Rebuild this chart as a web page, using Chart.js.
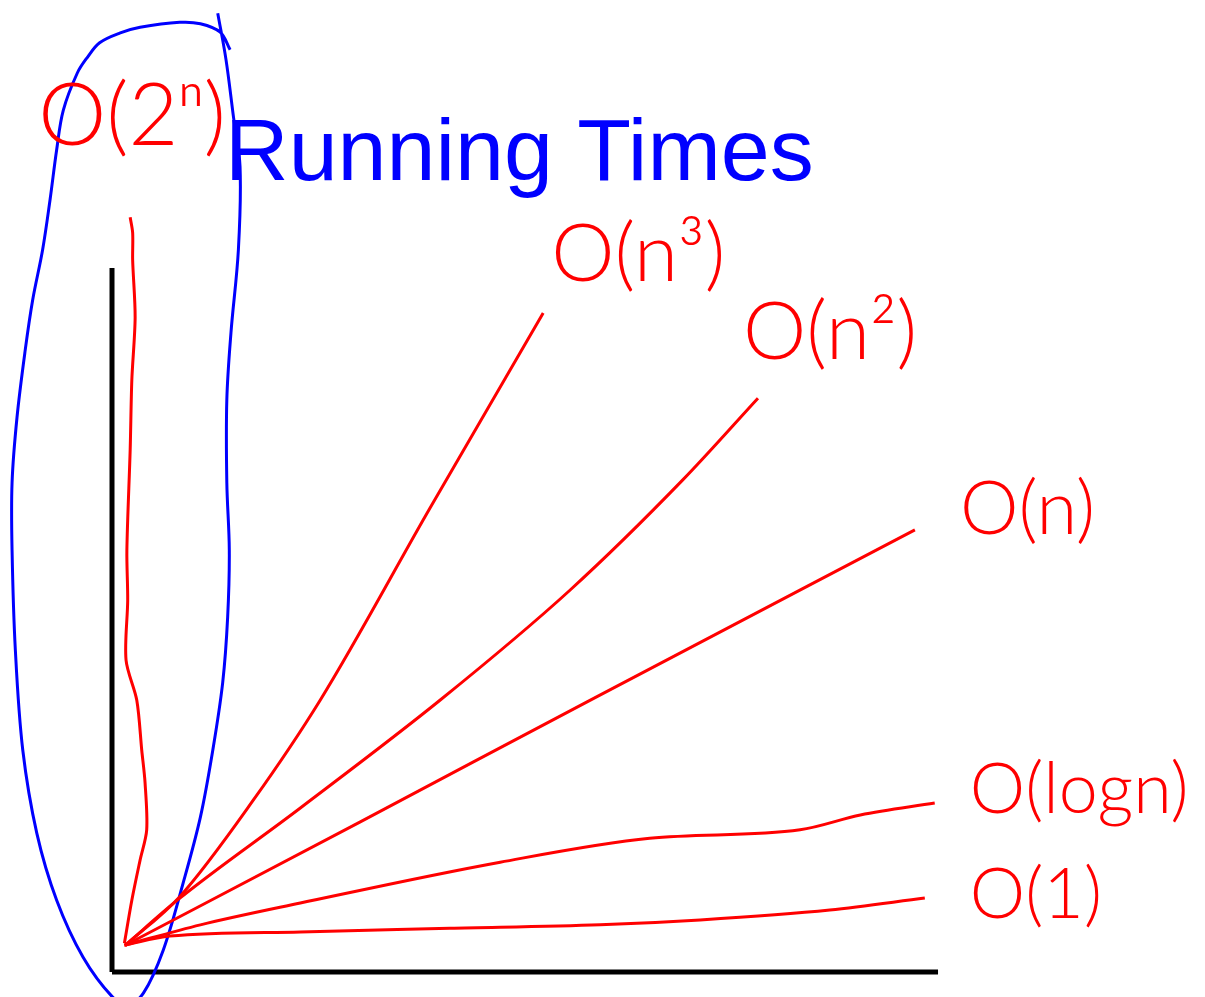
<!DOCTYPE html>
<html>
<head>
<meta charset="utf-8">
<title>Running Times</title>
<script src="https://cdn.jsdelivr.net/npm/chart.js@4/dist/chart.umd.min.js"></script>
<style>
    body { margin: 0; background: #fff; }
    #boks { width: 1205px; height: 997px; position: relative; }
</style>
</head>
<body>
<div id="boks"><canvas id="tidGraf"></canvas></div>
<script>
// Tittel og etiketter
const tittel = 'Running Times';
const etiketter = ['O(1)', 'O(logn)', 'O(n)', 'O(n²)', 'O(n³)', 'O(2ⁿ)'];

// Kurver (n langs x, tid langs y), lest av bildet
const x1 = [0.15, 0.70, 2.28, 4.09, 5.91, 7.12, 8.69, 9.84];
const y1 = [0.38, 0.51, 0.57, 0.62, 0.67, 0.74, 0.88, 1.05];

const xLog = [0.15, 1.07, 2.28, 4.70, 6.51, 8.33, 9.06, 9.96];
const yLog = [0.38, 0.67, 0.98, 1.56, 1.90, 2.02, 2.23, 2.40];

const xN = [0.16, 3.00, 5.82, 9.72];
const yN = [0.38, 2.13, 3.88, 6.28];

const xN2 = [0.16, 0.79, 2.28, 3.97, 5.55, 6.91, 7.82];
const yN2 = [0.38, 1.02, 2.33, 3.86, 5.43, 6.99, 8.15];

const xN3 = [0.16, 0.82, 1.71, 2.52, 3.85, 5.22];
const yN3 = [0.38, 1.07, 2.44, 3.86, 6.59, 9.36];

const x2n = [0.15, 0.24, 0.34, 0.42, 0.40, 0.36, 0.30, 0.17, 0.19, 0.18, 0.22, 0.24, 0.28, 0.25, 0.25, 0.22];
const y2n = [0.41, 1.02, 1.59, 2.02, 2.69, 3.15, 3.86, 4.43, 5.28, 5.99, 7.42, 8.41, 9.30, 10.11, 10.50, 10.72];

// Blå ring rundt O(2^n)
const xRing = [1.43, 1.31, 1.07, 0.82, 0.34, 0.10, -0.15, -0.30, -0.42, -0.59, -0.67, -0.75, -0.84, -0.96, -1.05, -1.15, -1.21, -1.21, -1.17, -1.08, -0.91, -0.67, -0.35, 0.01, 0.19, 0.38, 0.62, 0.86, 1.07, 1.22, 1.34, 1.40, 1.42, 1.39, 1.39, 1.44, 1.53, 1.55, 1.47, 1.38, 1.28];
const yRing = [13.10, 13.35, 13.47, 13.49, 13.42, 13.34, 13.20, 12.99, 12.77, 12.24, 11.68, 10.97, 10.26, 9.55, 8.84, 7.88, 6.95, 5.99, 4.57, 3.15, 1.97, 1.02, 0.21, -0.36, -0.46, -0.30, 0.31, 1.26, 2.20, 3.15, 4.11, 5.04, 5.99, 6.95, 8.13, 9.08, 10.26, 11.44, 12.15, 12.96, 13.62];

// Aksene
const xAkseX = [0, 10];
const xAkseY = [0, 0];
const yAkseX = [0, 0];
const yAkseY = [0, 10];

function lagPunkter(xs, ys) {
    return xs.map((x, i) => ({ x: x, y: ys[i] }));
}

function kurve(xs, ys, farge, bredde, spenning, glatt) {
    return {
        data: lagPunkter(xs, ys),
        showLine: true,
        borderColor: farge,
        borderWidth: bredde,
        pointRadius: 0,
        tension: spenning,
        cubicInterpolationMode: glatt ? 'monotone' : 'default',
        clip: false,
        fill: false
    };
}

let kurver = [
    kurve(x1, y1, '#ff0000', 3, 0.4, true),
    kurve(xLog, yLog, '#ff0000', 3, 0.4, true),
    kurve(xN, yN, '#ff0000', 3, 0.4, true),
    kurve(xN2, yN2, '#ff0000', 3, 0.4, true),
    kurve(xN3, yN3, '#ff0000', 3, 0.4, true),
    kurve(x2n, y2n, '#ff0000', 3, 0.3, false)
];

let grafData = {
    datasets: kurver.concat([
        kurve(xRing, yRing, '#0000ff', 3, 0.35, false),
        kurve(xAkseX, xAkseY, '#000000', 5, 0, false),
        kurve(yAkseX, yAkseY, '#000000', 5, 0, false)
    ])
};

// Plassering av etikettene i forhold til enden av hver kurve
const etikettFlytt = [[45, -3], [35, -13], [45, -20], [-15, -65], [8, -58], [-92, -100]];
const etikettStr = [70, 70, 74, 80, 80, 86];

const tekstPlugin = {
    id: 'tekster',
    afterDatasetsDraw(chart) {
        const ctx = chart.ctx;
        ctx.save();
        ctx.fillStyle = '#0000ff';
        ctx.font = '88px "Liberation Sans", Arial, sans-serif';
        ctx.textAlign = 'center';
        ctx.textBaseline = 'alphabetic';
        ctx.fillText(tittel, chart.width * 0.431, 180);

        ctx.fillStyle = '#ff0000';
        ctx.textAlign = 'left';
        ctx.textBaseline = 'middle';
        etiketter.forEach((tekst, i) => {
            const punkter = chart.getDatasetMeta(i).data;
            const slutt = punkter[punkter.length - 1];
            ctx.font = '300 ' + etikettStr[i] + 'px Lato, "Open Sans", sans-serif';
            ctx.fillText(tekst, slutt.x + etikettFlytt[i][0], slutt.y + etikettFlytt[i][1]);
        });
        ctx.restore();
    }
};

let grafConfig = {
    type: 'scatter',
    data: grafData,
    options: {
        responsive: true,
        maintainAspectRatio: false,
        animation: false,
        layout: { padding: 0 },
        plugins: {
            legend: { display: false },
            tooltip: { enabled: false }
        },
        scales: {
            x: { type: 'linear', display: false, min: -1.356, max: 13.232 },
            y: { type: 'linear', display: false, min: -0.355, max: 13.807 }
        }
    },
    plugins: [tekstPlugin]
};

let tidGraf = new Chart(document.getElementById('tidGraf'), grafConfig);
</script>
</body>
</html>
